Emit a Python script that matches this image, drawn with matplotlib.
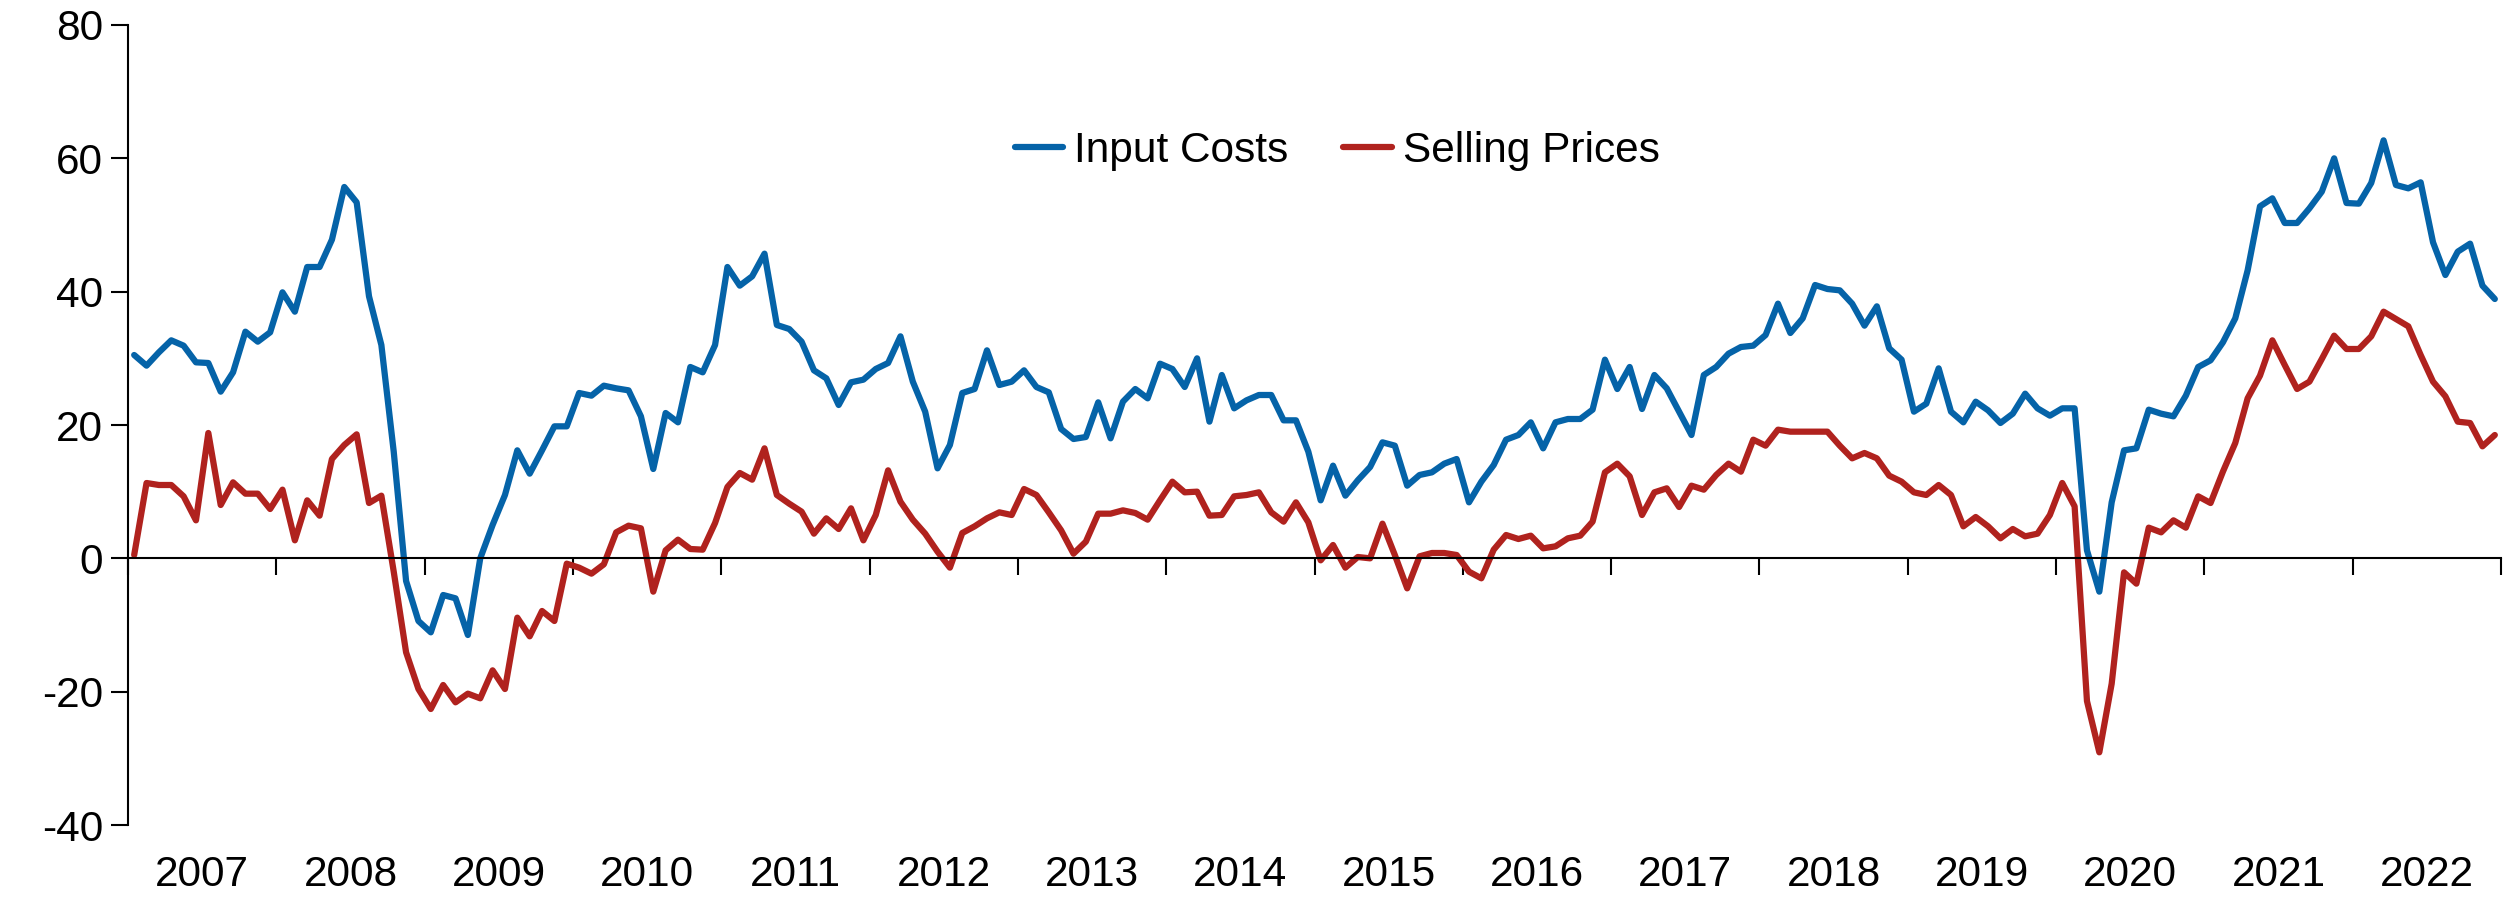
import matplotlib
matplotlib.use("Agg")
import matplotlib.pyplot as plt
import matplotlib.transforms as mtransforms
import numpy as np

plt.rcParams["font.family"] = ["Liberation Sans", "DejaVu Sans"]
plt.rcParams["axes.unicode_minus"] = False

years = [str(y) for y in range(2007, 2023)]

# monthly balances, Jan 2007 - Dec 2022
input_costs = [
    30.5, 28.9, 30.9, 32.7, 31.9, 29.4, 29.3, 25.0, 27.9, 34.0, 32.5, 33.9,
    39.9, 37.0, 43.7, 43.7, 47.8, 55.7, 53.4, 39.3, 32.0, 16.0, -3.4, -9.4,
    -11.1, -5.5, -6.0, -11.5, 0.0, 5.0, 9.5, 16.2, 12.7, 16.2, 19.8, 19.8,
    24.8, 24.4, 25.9, 25.5, 25.2, 21.3, 13.4, 21.8, 20.4, 28.7, 27.9, 32.0,
    43.7, 40.9, 42.3, 45.7, 35.0, 34.4, 32.5, 28.2, 27.0, 23.0, 26.4, 26.8,
    28.4, 29.3, 33.3, 26.5, 22.0, 13.5, 17.0, 24.8, 25.4, 31.2, 26.0, 26.5,
    28.2, 25.7, 24.9, 19.4, 17.9, 18.2, 23.4, 18.0, 23.5, 25.4, 24.0, 29.2,
    28.4, 25.7, 30.0, 20.5, 27.5, 22.5, 23.7, 24.5, 24.5, 20.7, 20.7, 16.0,
    8.7, 13.9, 9.4, 11.7, 13.7, 17.4, 16.9, 10.9, 12.5, 12.9, 14.2, 14.9,
    8.4, 11.5, 14.0, 17.8, 18.5, 20.4, 16.5, 20.4, 20.9, 20.9, 22.3, 29.8,
    25.4, 28.7, 22.4, 27.5, 25.5, 22.0, 18.5, 27.5, 28.7, 30.7, 31.7, 31.9,
    33.5, 38.2, 33.8, 36.0, 41.0, 40.4, 40.2, 38.2, 34.9, 37.8, 31.5, 29.8,
    22.0, 23.2, 28.5, 22.0, 20.4, 23.5, 22.2, 20.3, 21.7, 24.7, 22.5, 21.4,
    22.5, 22.5, 1.2, -5.0, 8.4, 16.2, 16.5, 22.3, 21.7, 21.3, 24.4, 28.7,
    29.7, 32.4, 36.0, 43.2, 52.8, 54.0, 50.3, 50.3, 52.5, 55.0, 60.0, 53.3,
    53.2, 56.3, 62.7, 56.0, 55.5, 56.4, 47.4, 42.5, 46.0, 47.2, 40.9, 38.9,
]

selling_prices = [
    0.5, 11.3, 11.0, 11.0, 9.3, 5.7, 18.8, 8.0, 11.4, 9.7, 9.7, 7.4,
    10.3, 2.7, 8.7, 6.4, 14.9, 17.0, 18.6, 8.3, 9.4, -2.0, -14.1, -19.6,
    -22.6, -19.0, -21.6, -20.3, -21.0, -16.8, -19.6, -8.9, -11.7, -7.9, -9.4, -0.8,
    -1.4, -2.3, -0.9, 3.9, 4.9, 4.5, -5.0, 1.2, 2.8, 1.4, 1.3, 5.3,
    10.7, 12.8, 11.8, 16.5, 9.5, 8.2, 7.0, 3.7, 6.0, 4.4, 7.5, 2.7,
    6.5, 13.2, 8.5, 5.8, 3.7, 1.0, -1.4, 3.8, 4.8, 6.0, 6.9, 6.5,
    10.4, 9.5, 6.9, 4.2, 0.7, 2.5, 6.7, 6.7, 7.2, 6.8, 5.8, 8.7,
    11.5, 9.9, 10.0, 6.4, 6.5, 9.3, 9.5, 9.9, 6.9, 5.5, 8.4, 5.4,
    -0.3, 2.0, -1.4, 0.2, 0.0, 5.2, 0.5, -4.5, 0.3, 0.8, 0.8, 0.5,
    -2.0, -3.0, 1.3, 3.5, 2.9, 3.4, 1.5, 1.8, 3.0, 3.4, 5.5, 12.9,
    14.2, 12.3, 6.5, 9.9, 10.5, 7.7, 10.9, 10.3, 12.5, 14.2, 13.0, 17.8,
    16.9, 19.3, 19.0, 19.0, 19.0, 19.0, 16.9, 15.0, 15.8, 15.0, 12.4, 11.5,
    9.9, 9.5, 11.0, 9.5, 4.8, 6.2, 4.8, 3.0, 4.4, 3.3, 3.7, 6.5,
    11.3, 7.8, -21.4, -29.1, -18.8, -2.1, -3.8, 4.6, 3.9, 5.7, 4.6, 9.3,
    8.3, 13.0, 17.3, 24.0, 27.4, 32.7, 29.0, 25.4, 26.5, 29.9, 33.4, 31.4,
    31.4, 33.3, 37.0, 35.9, 34.8, 30.5, 26.5, 24.3, 20.5, 20.3, 16.8, 18.5,
]

n = len(input_costs)
x = np.arange(n)

fig = plt.figure(figsize=(25.14, 8.97), dpi=100)
ax = fig.add_axes([128 / 2514, 72 / 897, 2373 / 2514, 800 / 897])

ax.plot(x, input_costs, color="#0563A8", lw=4.5, label="Input Costs",
        solid_joinstyle="round", solid_capstyle="round")
ax.plot(x, selling_prices, color="#B0221E", lw=4.5, label="Selling Prices",
        solid_joinstyle="round", solid_capstyle="round")

ax.set_xlim(-0.5, n - 0.5)
ax.set_ylim(-40, 80)
ax.set_yticks(np.arange(-40, 81, 20))
ax.tick_params(axis="y", labelsize=30.5, length=12, width=1.5, pad=6)

# x axis line through zero, year ticks at boundaries, labels at the bottom
ax.spines["bottom"].set_position(("data", 0))
ax.spines["top"].set_visible(False)
ax.spines["right"].set_visible(False)
ax.spines["left"].set_linewidth(1.5)
ax.spines["bottom"].set_linewidth(1.5)
ax.set_xticks(np.arange(-0.5, n, 12))
ax.set_xticklabels([])
ax.tick_params(axis="x", length=12, width=1.5)

trans = mtransforms.blended_transform_factory(ax.transData, ax.transAxes)
for k, yr in enumerate(years):
    ax.text(12 * k + 5.5, -0.0625, yr, transform=trans, ha="center",
            va="center", fontsize=30.5)

ax.legend(loc="center", bbox_to_anchor=(0.5095, 0.8425), ncol=2,
          frameon=False, fontsize=30.5, handlelength=1.15, handletextpad=0.25,
          columnspacing=1.3)

fig.savefig("out.png", dpi=100)
